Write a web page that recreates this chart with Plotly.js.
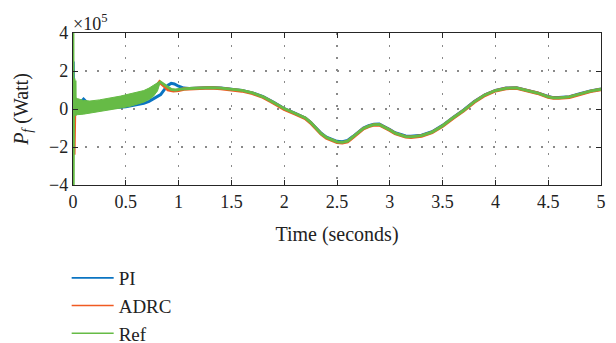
<!DOCTYPE html>
<html>
<head>
<meta charset="utf-8">
<script src="https://cdn.plot.ly/plotly-3.0.1.min.js"></script>
<style>html,body{margin:0;padding:0;background:#fff;}#chart{width:616px;height:343px;}</style>
</head>
<body>
<div id="chart"></div>
<script>
// Values in units of 1e5 W (axis shows ×10^5)
var seriesNames = ["PI", "ADRC", "Ref"];

var piT = [0, 0.002, 0.004, 0.007, 0.01, 0.02, 0.04, 0.07, 0.1, 0.13, 0.17, 0.2, 0.3, 0.4, 0.5, 0.6, 0.67, 0.72, 0.76, 0.8, 0.83, 0.87, 0.9, 0.93, 0.96, 1.0, 1.05, 1.1, 1.2, 1.3, 1.4, 1.5, 1.6, 1.7, 1.8, 1.9, 2.0, 2.1, 2.2, 2.25, 2.3, 2.35, 2.4, 2.45, 2.5, 2.55, 2.6, 2.65, 2.7, 2.75, 2.8, 2.85, 2.9, 2.95, 3.0, 3.05, 3.1, 3.15, 3.2, 3.3, 3.4, 3.5, 3.6, 3.7, 3.8, 3.9, 4.0, 4.1, 4.2, 4.3, 4.4, 4.5, 4.55, 4.6, 4.7, 4.8, 4.9, 5.0];
var piV = [1.4, 2.5, 1.3, -0.3, 0.2, 0.0, 0.1, 0.35, 0.52, 0.35, 0.15, 0.1, 0.08, 0.08, 0.12, 0.22, 0.3, 0.4, 0.52, 0.65, 0.76, 1.06, 1.25, 1.35, 1.32, 1.2, 1.1, 1.08, 1.12, 1.13, 1.1, 1.05, 0.98, 0.85, 0.65, 0.35, 0.02, -0.22, -0.47, -0.7, -1.0, -1.28, -1.48, -1.6, -1.7, -1.72, -1.66, -1.45, -1.2, -1.0, -0.88, -0.8, -0.79, -0.92, -1.08, -1.25, -1.35, -1.42, -1.44, -1.38, -1.2, -0.86, -0.44, -0.05, 0.4, 0.75, 0.98, 1.1, 1.12, 1.0, 0.85, 0.66, 0.6, 0.6, 0.65, 0.8, 0.95, 1.05];

var adrcT = [0, 0.004, 0.008, 0.012, 0.016, 0.02, 0.05, 0.2, 0.4, 0.6, 0.75, 0.82, 0.86, 0.9, 0.95, 1.0, 1.05, 1.1, 1.2, 1.3, 1.4, 1.5, 1.6, 1.7, 1.8, 1.9, 2.0, 2.1, 2.2, 2.25, 2.3, 2.35, 2.4, 2.45, 2.5, 2.55, 2.6, 2.65, 2.7, 2.75, 2.8, 2.85, 2.9, 2.95, 3.0, 3.05, 3.1, 3.15, 3.2, 3.3, 3.4, 3.5, 3.6, 3.7, 3.8, 3.9, 4.0, 4.1, 4.2, 4.3, 4.4, 4.5, 4.55, 4.6, 4.7, 4.8, 4.9, 5.0];
var adrcV = [1.3, 0.4, -2.4, -1.0, 0.3, 0.1, 0.1, 0.15, 0.3, 0.5, 0.9, 1.42, 1.22, 1.02, 0.96, 0.98, 1.05, 1.07, 1.1, 1.11, 1.08, 1.02, 0.95, 0.82, 0.62, 0.32, -0.01, -0.25, -0.5, -0.73, -1.04, -1.32, -1.53, -1.66, -1.76, -1.78, -1.72, -1.5, -1.24, -1.04, -0.92, -0.84, -0.83, -0.96, -1.12, -1.29, -1.4, -1.47, -1.49, -1.42, -1.24, -0.9, -0.48, -0.09, 0.36, 0.72, 0.96, 1.08, 1.1, 0.98, 0.83, 0.63, 0.57, 0.57, 0.62, 0.77, 0.93, 1.03];

// Ref: fast oscillation between ~0.02 s and 0.82 s forms a band (upper/lower envelope)
var bandT = [0.022, 0.04, 0.1, 0.16, 0.25, 0.35, 0.45, 0.54, 0.62, 0.67, 0.72, 0.76, 0.8, 0.82];
var bandUpper = [0.6, 0.55, 0.45, 0.42, 0.48, 0.57, 0.68, 0.8, 0.9, 0.97, 1.1, 1.25, 1.38, 1.45];
var bandLower = [-0.35, -0.3, -0.27, -0.23, -0.14, -0.05, 0.05, 0.14, 0.27, 0.36, 0.5, 0.66, 0.95, 1.3];

// start-up spike, then (band), then smooth part
var refStartT = [0, 0.003, 0.006, 0.01, 0.015, 0.02, 0.022];
var refStartV = [4.0, -4.0, 0.5, 1.6, -0.3, 1.5, 0.1];
var refT = [0.82, 0.86, 0.89, 0.93, 0.97, 1.02, 1.1, 1.2, 1.3, 1.4, 1.5, 1.6, 1.7, 1.8, 1.9, 2.0, 2.1, 2.2, 2.25, 2.3, 2.35, 2.4, 2.45, 2.5, 2.55, 2.6, 2.65, 2.7, 2.75, 2.8, 2.85, 2.9, 2.95, 3.0, 3.05, 3.1, 3.15, 3.2, 3.3, 3.4, 3.5, 3.6, 3.7, 3.8, 3.9, 4.0, 4.1, 4.2, 4.3, 4.4, 4.5, 4.55, 4.6, 4.7, 4.8, 4.9, 5.0];
var refV = [1.45, 1.3, 1.15, 1.03, 1.0, 1.05, 1.08, 1.12, 1.13, 1.1, 1.05, 0.98, 0.85, 0.64, 0.34, 0.02, -0.22, -0.47, -0.7, -1.0, -1.3, -1.5, -1.63, -1.73, -1.75, -1.69, -1.47, -1.22, -1.02, -0.9, -0.82, -0.81, -0.94, -1.1, -1.27, -1.38, -1.45, -1.47, -1.4, -1.22, -0.88, -0.46, -0.07, 0.38, 0.74, 0.97, 1.09, 1.11, 0.99, 0.84, 0.64, 0.59, 0.59, 0.64, 0.79, 0.94, 1.04];

var xTicks = [0, 0.5, 1, 1.5, 2, 2.5, 3, 3.5, 4, 4.5, 5];
var xTickText = ["0", "0.5", "1", "1.5", "2", "2.5", "3", "3.5", "4", "4.5", "5"];
var yTicks = [-4, -2, 0, 2, 4];
var yTickText = ["\u22124", "\u22122", "0", "2", "4"];

var colors = {pi: "#0b74c2", adrc: "#f05a22", ref: "#66bb46"};
var font = "Liberation Serif";

var traces = [
  {x: piT, y: piV, name: seriesNames[0], mode: "lines", line: {color: colors.pi, width: 3}, showlegend: false},
  {x: adrcT, y: adrcV, name: seriesNames[1], mode: "lines", line: {color: colors.adrc, width: 3.4}, showlegend: false},
  {x: bandT.concat(bandT.slice().reverse()), y: bandUpper.concat(bandLower.slice().reverse()),
   mode: "lines", fill: "toself", fillcolor: colors.ref, line: {color: colors.ref, width: 1},
   showlegend: false, hoverinfo: "skip"},
  {x: refStartT, y: refStartV, mode: "lines", line: {color: colors.ref, width: 2.8}, showlegend: false},
  {x: refT, y: refV, name: seriesNames[2], mode: "lines", line: {color: colors.ref, width: 2.8}, showlegend: false},
  // legend entries (thin lines as in the reference legend)
  {x: [null], y: [null], name: seriesNames[0], mode: "lines", line: {color: colors.pi, width: 1.6}},
  {x: [null], y: [null], name: seriesNames[1], mode: "lines", line: {color: colors.adrc, width: 1.6}},
  {x: [null], y: [null], name: seriesNames[2], mode: "lines", line: {color: colors.ref, width: 1.6}}
];

var gridDash = "1.5px,10.5px";
var layout = {
  width: 616, height: 343,
  margin: {l: 73, r: 15, t: 33, b: 158, autoexpand: false},
  paper_bgcolor: "#fff", plot_bgcolor: "#fff",
  font: {family: font, color: "#222", size: 18},
  showlegend: true,
  legend: {x: -0.012, xanchor: "left", y: -0.487, yanchor: "top", font: {family: font, size: 19, color: "#222"},
           bgcolor: "rgba(0,0,0,0)", tracegroupgap: 0, itemwidth: 42},
  xaxis: {range: [0, 5], tickvals: xTicks, ticktext: xTickText, ticks: "inside", ticklen: 5, tickcolor: "#262626",
          showline: true, linecolor: "#262626", linewidth: 1.2, mirror: "ticks", zeroline: false,
          showgrid: true, gridcolor: "#8a8a8a", gridwidth: 1.2, griddash: gridDash,
          tickfont: {family: font, size: 18, color: "#222"},
          title: {text: "Time (seconds)", font: {family: font, size: 20, color: "#222"}, standoff: 16}},
  yaxis: {range: [-4, 4], tickvals: yTicks, ticktext: yTickText, ticks: "inside", ticklen: 5, tickcolor: "#262626",
          showline: true, linecolor: "#262626", linewidth: 1.2, mirror: "ticks", zeroline: false,
          showgrid: true, gridcolor: "#8a8a8a", gridwidth: 1.2, griddash: gridDash,
          tickfont: {family: font, size: 18, color: "#222"},
          title: {text: "<i>P</i><sub><i>f</i></sub> (Watt)", font: {family: font, size: 20, color: "#222"}, standoff: 15}},
  annotations: [{xref: "paper", yref: "paper", x: 0, y: 1, xanchor: "left", yanchor: "bottom", showarrow: false,
                 text: "\u00d710<sup>5</sup>", font: {family: font, size: 18, color: "#222"}, xshift: -2, yshift: -3}]
};

Plotly.newPlot("chart", traces, layout, {displayModeBar: false, staticPlot: true});
</script>
</body>
</html>
